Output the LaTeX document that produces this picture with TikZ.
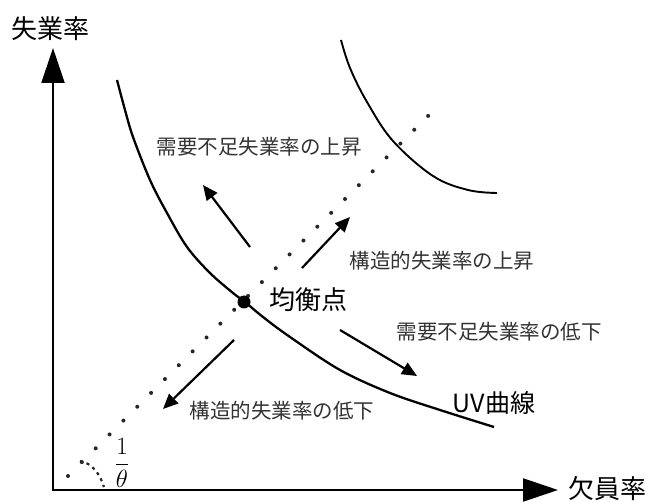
\documentclass[tikz,border=0pt]{standalone}
\usepackage{fontspec}
\newfontfamily\jp{Noto Sans CJK JP}
\usetikzlibrary{arrows.meta}
\begin{document}
\begin{tikzpicture}[x=1pt,y=-1pt,
  axisline/.style={line width=2.4pt,-{Triangle[length=35pt,width=23pt]}},
  movearrow/.style={line width=2.2pt,-{Triangle[length=15pt,width=13pt]}},
  curveline/.style={line width=2.3pt},
  smalllabel/.style={inner sep=0pt,text=black!80,font=\jp\fontsize{20.5}{24}\selectfont},
  biglabel/.style={inner sep=0pt,font=\jp\fontsize{26}{30}\selectfont},
  dotmark/.style={fill=black!85,draw=none}]
\useasboundingbox (0,0) rectangle (648,502);
\fill[white] (0,0) rectangle (648,502);
% axes
\coordinate (O) at (53,490);
\coordinate (ytip) at (53,48);
\coordinate (xtip) at (558,490);
\draw[axisline] (O) -- (ytip);
\draw[axisline] ([xshift=-1.2pt]O) -- (xtip);
\node[biglabel] (ylab) at (51,29) {失業率};
\node[biglabel] (xlab) at (607,489) {欠員率};
% dotted line (45 degrees)
\foreach \i in {0,...,26}{
  \fill[dotmark] ({68+\i*13.85},{476-\i*13.85}) circle (2pt);
}
% angle mark
\draw[line width=2.2pt,dash pattern=on 3pt off 4pt,black!85] (80,461) .. controls (92,463) and (100,474) .. (104,487);
\node[inner sep=0pt,font=\fontsize{24}{28}\selectfont] (theta) at (122,463) {$\displaystyle\frac{1}{\theta}$};
% UV curves
\draw[curveline] plot[smooth,tension=0.55] coordinates {(117,80) (125,110) (133,137) (150,180) (167,213) (187,247) (210,273) (233,293) (245,302) (263,317) (290,337) (340,370) (390,393) (440,410) (494,427)};
\draw[line width=1.9pt] plot[smooth,tension=0.6] coordinates {(341,40) (350,68) (367,102) (393,141) (433,176) (468,190) (497,193)};
% equilibrium point
\fill (244,302) circle (6.5pt);
\node[biglabel] (eq) at (308,300) {均衡点};
\node[inner sep=0pt,font=\jp\fontsize{25}{30}\selectfont] (uv) at (494,403) {UV曲線};
% movement arrows
\coordinate (a1s) at (250,247); \coordinate (a1e) at (203,185);
\coordinate (a2s) at (302,268); \coordinate (a2e) at (350,217);
\coordinate (a3s) at (340,330); \coordinate (a3e) at (417,376);
\coordinate (a4s) at (234,340); \coordinate (a4e) at (163,409);
\draw[movearrow] (a1s) -- (a1e);
\draw[movearrow] (a2s) -- (a2e);
\draw[movearrow] (a3s) -- (a3e);
\draw[movearrow] (a4s) -- (a4e);
% labels
\node[smalllabel] (l1) at (259,147) {需要不足失業率の上昇};
\node[smalllabel] (l2) at (442,261) {構造的失業率の上昇};
\node[smalllabel] (l3) at (499,332) {需要不足失業率の低下};
\node[smalllabel] (l4) at (282,411) {構造的失業率の低下};
\end{tikzpicture}
\end{document}
